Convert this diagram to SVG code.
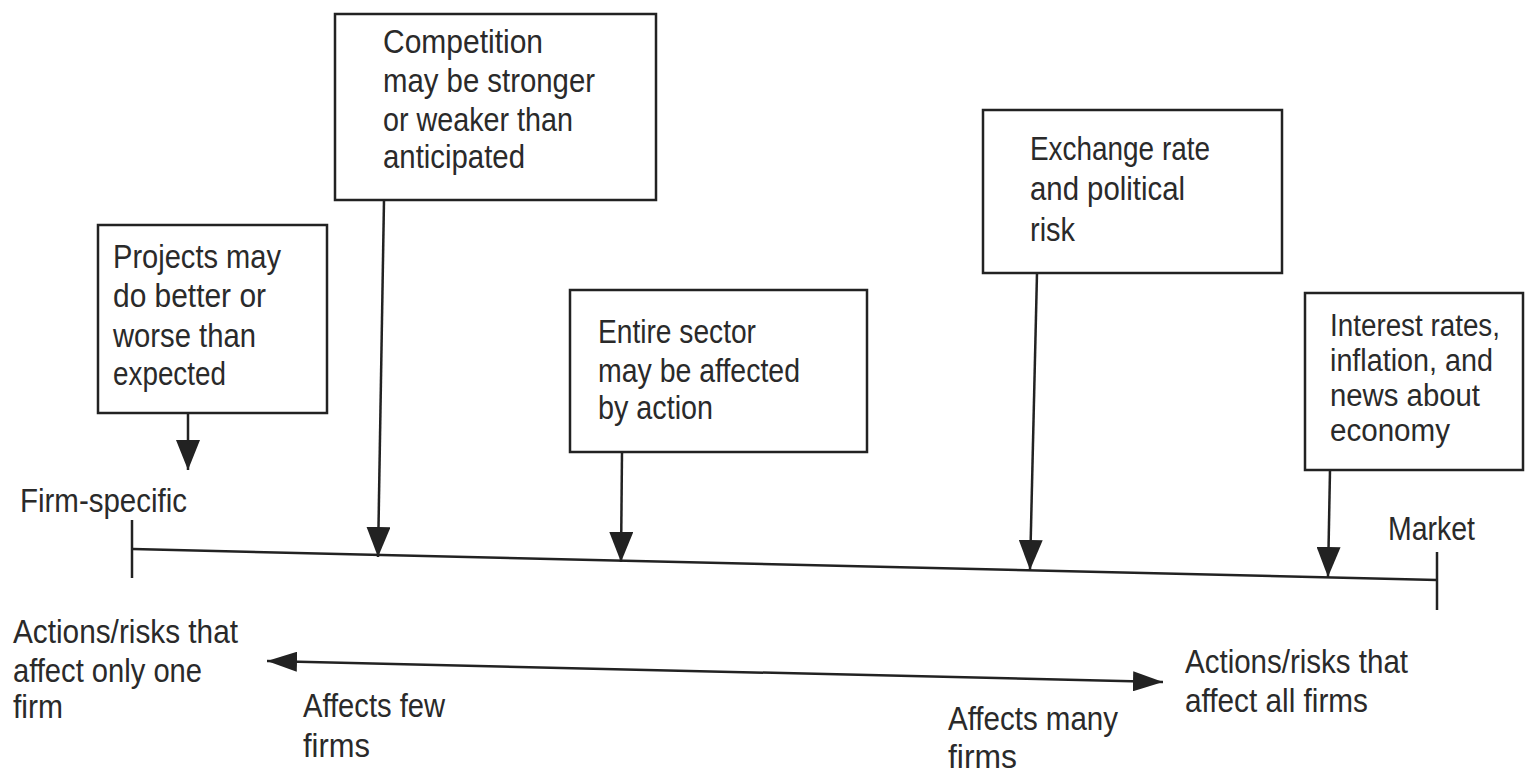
<svg xmlns="http://www.w3.org/2000/svg" width="1527" height="773" viewBox="0 0 1527 773">
<style>
.box{fill:#fff;stroke:#222;stroke-width:2.5}
.t{font-family:"Liberation Sans",Arial,sans-serif;font-size:34px;fill:#2a2a2a}
.s{font-size:31px}
.ln{stroke:#222;stroke-width:2.5;fill:none}
</style>
<defs>
<marker id="ah" markerUnits="userSpaceOnUse" viewBox="0 0 30 24" markerWidth="30" markerHeight="24" refX="30" refY="12" orient="auto">
<path d="M0,0 L30,12 L0,24 z" fill="#222"/>
</marker>
<marker id="ah2" markerUnits="userSpaceOnUse" viewBox="0 0 30 20" markerWidth="30" markerHeight="20" refX="30" refY="10" orient="auto-start-reverse">
<path d="M0,0 L30,10 L0,20 z" fill="#222"/>
</marker>
</defs>
<rect width="1527" height="773" fill="#fff"/>
<g id="connectors">
<line class="ln" x1="133" y1="549" x2="1437" y2="580"/>
<line class="ln" x1="132" y1="520" x2="132" y2="578"/>
<line class="ln" x1="1437" y1="552" x2="1437" y2="610"/>
<line class="ln" x1="188" y1="413" x2="188" y2="470" marker-end="url(#ah)"/>
<line class="ln" x1="384" y1="200" x2="378" y2="557" marker-end="url(#ah)"/>
<line class="ln" x1="622" y1="452" x2="621" y2="562" marker-end="url(#ah)"/>
<line class="ln" x1="1037" y1="273" x2="1030" y2="570" marker-end="url(#ah)"/>
<line class="ln" x1="1330" y1="470" x2="1328" y2="577" marker-end="url(#ah)"/>
<line class="ln" x1="267" y1="661" x2="1163" y2="682" marker-start="url(#ah2)" marker-end="url(#ah2)"/>
</g>
<g id="node-projects">
<rect class="box" x="98" y="225" width="229" height="188"/>
<text class="t" x="113" y="268" textLength="168" lengthAdjust="spacingAndGlyphs">Projects may</text>
<text class="t" x="113" y="307" textLength="153" lengthAdjust="spacingAndGlyphs">do better or</text>
<text class="t" x="113" y="347" textLength="143" lengthAdjust="spacingAndGlyphs">worse than</text>
<text class="t" x="113" y="385" textLength="113" lengthAdjust="spacingAndGlyphs">expected</text>
</g>
<g id="node-competition">
<rect class="box" x="335" y="14" width="321" height="186"/>
<text class="t" x="383" y="53" textLength="160" lengthAdjust="spacingAndGlyphs">Competition</text>
<text class="t" x="383" y="92" textLength="212" lengthAdjust="spacingAndGlyphs">may be stronger</text>
<text class="t" x="383" y="131" textLength="190" lengthAdjust="spacingAndGlyphs">or weaker than</text>
<text class="t" x="383" y="168" textLength="142" lengthAdjust="spacingAndGlyphs">anticipated</text>
</g>
<g id="node-sector">
<rect class="box" x="570" y="290" width="297" height="162"/>
<text class="t" x="598" y="343" textLength="158" lengthAdjust="spacingAndGlyphs">Entire sector</text>
<text class="t" x="598" y="382" textLength="202" lengthAdjust="spacingAndGlyphs">may be affected</text>
<text class="t" x="598" y="419" textLength="115" lengthAdjust="spacingAndGlyphs">by action</text>
</g>
<g id="node-exchange">
<rect class="box" x="983" y="110" width="299" height="163"/>
<text class="t" x="1030" y="160" textLength="180" lengthAdjust="spacingAndGlyphs">Exchange rate</text>
<text class="t" x="1030" y="200" textLength="155" lengthAdjust="spacingAndGlyphs">and political</text>
<text class="t" x="1030" y="241" textLength="45" lengthAdjust="spacingAndGlyphs">risk</text>
</g>
<g id="node-interest">
<rect class="box" x="1305" y="293" width="218" height="177"/>
<text class="t s" x="1330" y="336" textLength="170" lengthAdjust="spacingAndGlyphs">Interest rates,</text>
<text class="t s" x="1330" y="371" textLength="163" lengthAdjust="spacingAndGlyphs">inflation, and</text>
<text class="t s" x="1330" y="406" textLength="150" lengthAdjust="spacingAndGlyphs">news about</text>
<text class="t s" x="1330" y="441" textLength="120" lengthAdjust="spacingAndGlyphs">economy</text>
</g>
<g id="labels">
<text class="t" x="20" y="512" textLength="167" lengthAdjust="spacingAndGlyphs">Firm-specific</text>
<text class="t" x="1388" y="540" textLength="87" lengthAdjust="spacingAndGlyphs">Market</text>
<text class="t" x="13" y="643" textLength="225" lengthAdjust="spacingAndGlyphs">Actions/risks that</text>
<text class="t" x="13" y="682" textLength="189" lengthAdjust="spacingAndGlyphs">affect only one</text>
<text class="t" x="13" y="718" textLength="50" lengthAdjust="spacingAndGlyphs">firm</text>
<text class="t" x="303" y="717" textLength="142" lengthAdjust="spacingAndGlyphs">Affects few</text>
<text class="t" x="303" y="757" textLength="67" lengthAdjust="spacingAndGlyphs">firms</text>
<text class="t" x="948" y="730" textLength="170" lengthAdjust="spacingAndGlyphs">Affects many</text>
<text class="t" x="948" y="768" textLength="69" lengthAdjust="spacingAndGlyphs">firms</text>
<text class="t" x="1185" y="673" textLength="223" lengthAdjust="spacingAndGlyphs">Actions/risks that</text>
<text class="t" x="1185" y="712" textLength="183" lengthAdjust="spacingAndGlyphs">affect all firms</text>
</g>
</svg>
